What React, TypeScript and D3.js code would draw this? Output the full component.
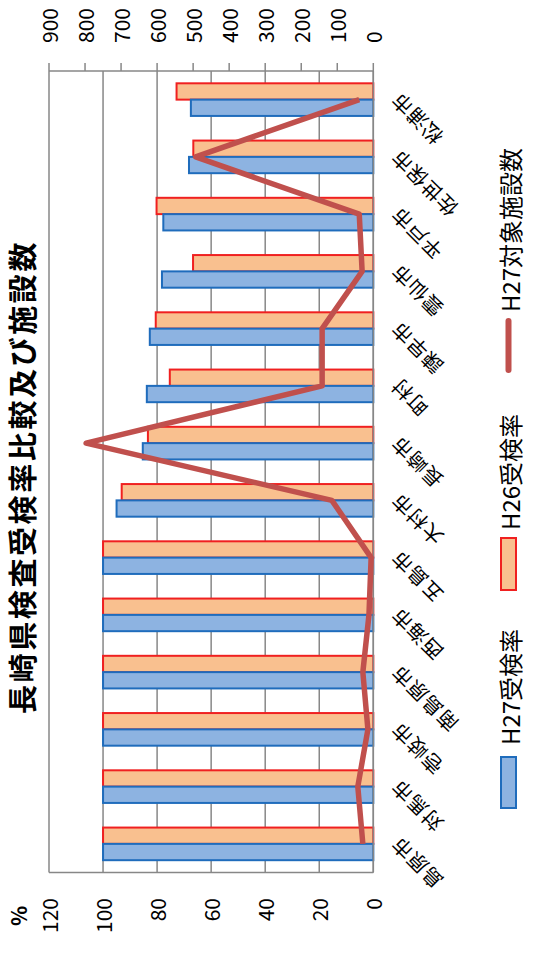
import React from "react";
import * as d3 from "d3";

const categories = ["島原市", "対馬市", "壱岐市", "南島原市", "西海市", "五島市", "大村市", "長崎市", "町村", "諫早市", "雲仙市", "平戸市", "佐世保市", "松浦市"];
const h27Rate = [100, 100, 100, 100, 100, 100, 95, 85.3, 83.8, 82.7, 78.2, 77.7, 68.2, 67.5];
const h26Rate = [100, 100, 100, 100, 100, 100, 93.1, 83.4, 75.3, 80.5, 66.7, 80.2, 66.6, 72.8];
const facilityCount = [29, 43, 15, 29, 12, 6, 115, 797, 142, 142, 31, 39, 493, 39];
const rateTicks = [0, 20, 40, 60, 80, 100, 120];
const countTicks = [0, 100, 200, 300, 400, 500, 600, 700, 800, 900];

const FONT = "'Noto Sans CJK JP', 'Noto Sans', sans-serif";

export default function App() {
  const left = 49, right = 373.3, top = 71, bottom = 872.5;
  const xRate = d3.scaleLinear().domain([0, 120]).range([right, left]);
  const xCount = d3.scaleLinear().domain([0, 900]).range([right, left]);
  const y = d3.scaleBand<string>().domain(categories).range([bottom, top]);
  const step = y.step();
  const barH = step * 0.285;
  const cy = (c: string) => (y(c) as number) + y.bandwidth() / 2;

  const line = d3
    .line<number>()
    .x((d) => xCount(d))
    .y((_, i) => cy(categories[i]));

  return (
    <svg width={541} height={955} style={{ position: "absolute", left: 0, top: 0, background: "#fff" }} fontFamily={FONT}>
      {/* gridlines */}
      {rateTicks.map((t) => (
        <line key={"g" + t} x1={xRate(t)} x2={xRate(t)} y1={top} y2={bottom} stroke="#878787" strokeWidth={1.5} />
      ))}
      <line x1={left} x2={right} y1={top} y2={top} stroke="#878787" strokeWidth={1.5} />
      <line x1={left} x2={right} y1={bottom} y2={bottom} stroke="#878787" strokeWidth={1.5} />
      {/* secondary axis ticks */}
      {countTicks.map((t) => (
        <line key={"ct" + t} x1={xCount(t)} x2={xCount(t)} y1={top - 8} y2={top} stroke="#878787" strokeWidth={1.5} />
      ))}
      {/* bars */}
      {categories.map((c, i) => (
        <g key={c}>
          <rect x={xRate(h26Rate[i])} y={cy(c) - barH} width={xRate(0) - xRate(h26Rate[i])} height={barH} fill="#F9C08F" stroke="#F02020" strokeWidth={2} />
          <rect x={xRate(h27Rate[i])} y={cy(c)} width={xRate(0) - xRate(h27Rate[i])} height={barH} fill="#8DB3E1" stroke="#1F6CBC" strokeWidth={2} />
        </g>
      ))}
      <line x1={right} x2={right} y1={top} y2={bottom} stroke="#878787" strokeWidth={1.5} />
      {/* line series */}
      <path d={line(facilityCount) || ""} fill="none" stroke="#C0504D" strokeWidth={5.5} strokeLinejoin="round" />
      {/* bottom tick labels */}
      {rateTicks.map((t) => (
        <text key={"rl" + t} transform={`translate(${xRate(t)},898) rotate(-90)`} textAnchor="end" dominantBaseline="central" fontSize={21} fill="#000">
          {t}
        </text>
      ))}
      {/* top tick labels */}
      {countTicks.map((t) => (
        <text key={"cl" + t} transform={`translate(${xCount(t)},43) rotate(-90)`} textAnchor="start" dominantBaseline="central" fontSize={21} fill="#000">
          {t}
        </text>
      ))}
      {/* category labels */}
      {categories.map((c) => (
        <text key={"lab" + c} transform={`translate(${right + 21},${cy(c) - 3}) rotate(-135)`} textAnchor="end" dominantBaseline="central" fontSize={20} letterSpacing={1} fill="#000">
          {c}
        </text>
      ))}
      {/* title */}
      <text transform="translate(21,477) rotate(-90)" textAnchor="middle" dominantBaseline="central" fontSize={29} letterSpacing={2.6} fontWeight="bold" fill="#000">
        長崎県検査受検率比較及び施設数
      </text>
      <text transform="translate(18,916) rotate(-90)" textAnchor="middle" dominantBaseline="central" fontSize={21} fontWeight="bold" fill="#000">
        %
      </text>
      {/* legend */}
      <rect x={501} y={757} width={15} height={51} fill="#8DB3E1" stroke="#1F6CBC" strokeWidth={2} />
      <text transform="translate(509,745) rotate(-90)" textAnchor="start" dominantBaseline="central" fontSize={24} fill="#000">H27受検率</text>
      <rect x={501} y={538} width={15} height={52} fill="#F9C08F" stroke="#F02020" strokeWidth={2} />
      <text transform="translate(509,530) rotate(-90)" textAnchor="start" dominantBaseline="central" fontSize={24} fill="#000">H26受検率</text>
      <line x1={508.5} x2={508.5} y1={321} y2={370} stroke="#C0504D" strokeWidth={6} strokeLinecap="round" />
      <text transform="translate(509,312) rotate(-90)" textAnchor="start" dominantBaseline="central" fontSize={24} fill="#000">H27対象施設数</text>
    </svg>
  );
}
